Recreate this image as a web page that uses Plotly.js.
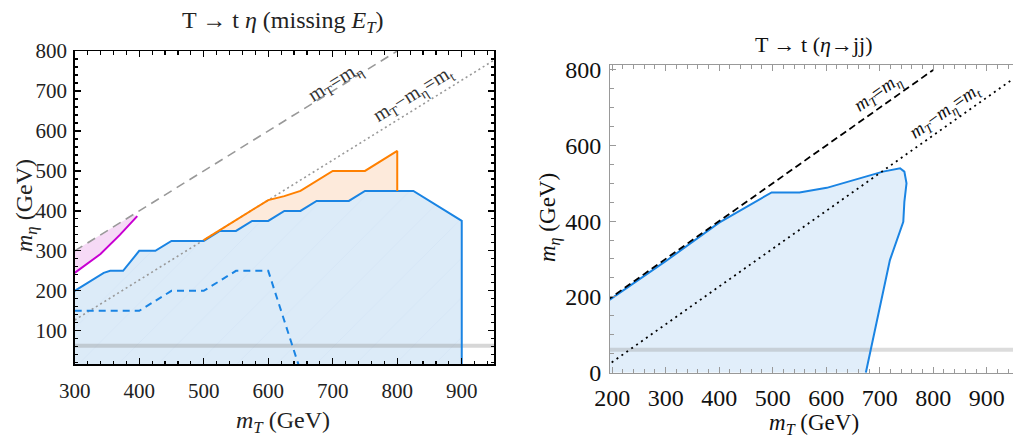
<!DOCTYPE html>
<html>
<head>
<meta charset="utf-8">
<script src="https://cdn.plot.ly/plotly-3.0.1.min.js"></script>
<style>html,body{margin:0;padding:0;overflow:hidden;background:#fff}</style>
</head>
<body>
<div id="chart" style="width:1013px;height:438px"></div>
<script>
// ---------- Left panel: T -> t eta (missing E_T) ----------
const leftBlueX = [300, 325, 345, 355, 375, 400, 425, 450, 500, 525, 550, 575, 600, 625, 650, 675, 725, 750, 825, 900, 900];
const leftBlueY = [200, 225, 245, 250, 250, 300, 300, 325, 325, 350, 350, 375, 375, 400, 400, 425, 425, 450, 450, 375, 0];
const leftDashX = [300, 400, 450, 500, 550, 600, 650];
const leftDashY = [150, 150, 200, 200, 250, 250, 0];
const orangeX = [500, 550, 600, 625, 650, 700, 750, 800, 800];
const orangeY = [327, 377, 427, 437, 450, 500, 500, 550, 450];
const magentaX = [300, 340, 370, 397];
const magentaY = [245, 292, 340, 387];
const topMass = 173;
const higgsHalf = 62.5;
const rightBand = 60;

// ---------- Right panel: T -> t (eta -> jj) ----------
const rightBlueX = [190, 300, 400, 498, 550, 601, 706, 738, 746, 750, 746, 744, 719, 674];
const rightBlueY = [187, 294, 396, 476, 476, 488, 531, 540, 531, 500, 451, 398, 297, -1];

const L = {x: [300, 950], y: [17, 800]};
const R = {x: [196, 949], y: [-1, 813]};

const blueLine = '#1a84e3';
const blueFill = '#dcebf8';

function blueAt(x) {
  for (let i = 0; i < leftBlueX.length - 1; i++) {
    const x0 = leftBlueX[i], x1 = leftBlueX[i + 1];
    if (x >= x0 && x <= x1 && x1 > x0) {
      return leftBlueY[i] + (leftBlueY[i + 1] - leftBlueY[i]) * (x - x0) / (x1 - x0);
    }
  }
  return null;
}
const backX = leftBlueX.filter(v => v >= 500 && v <= 800).reverse();
const orangeFillX = orangeX.concat([800], backX);
const orangeFillY = orangeY.concat([blueAt(800)], backX.map(blueAt));

const pinkFillX = magentaX.concat([390, 300]);
const pinkFillY = magentaY.concat([390, 300]);

const traces = [
  {x: leftBlueX.concat([300]), y: leftBlueY.concat([0]), xaxis: 'x', yaxis: 'y', mode: 'lines',
   fill: 'toself', fillcolor: blueFill, line: {width: 0}, hoverinfo: 'skip',
   fillpattern: {shape: '/', bgcolor: blueFill, fgcolor: '#d4e5f5', size: 28, solidity: 0.03}},
  {x: orangeFillX, y: orangeFillY, xaxis: 'x', yaxis: 'y', mode: 'lines',
   fill: 'toself', fillcolor: '#fdeadb', line: {width: 0}, hoverinfo: 'skip'},
  {x: pinkFillX, y: pinkFillY, xaxis: 'x', yaxis: 'y', mode: 'lines',
   fill: 'toself', fillcolor: '#f6daf6', line: {width: 0}, hoverinfo: 'skip'},
  {x: L.x, y: [higgsHalf, higgsHalf], xaxis: 'x', yaxis: 'y', mode: 'lines',
   line: {color: 'rgba(140,140,140,0.35)', width: 4}},
  {x: [300, 800], y: [300, 800], xaxis: 'x', yaxis: 'y', mode: 'lines',
   line: {color: '#999999', width: 1.6, dash: '9px,6px'}},
  {x: [300, 950], y: [300 - topMass, 950 - topMass], xaxis: 'x', yaxis: 'y', mode: 'lines',
   line: {color: '#999999', width: 1.6, dash: '2px,3px'}},
  {x: leftBlueX, y: leftBlueY, xaxis: 'x', yaxis: 'y', mode: 'lines',
   line: {color: blueLine, width: 2}},
  {x: leftDashX, y: leftDashY, xaxis: 'x', yaxis: 'y', mode: 'lines',
   line: {color: blueLine, width: 2, dash: '7px,5px'}},
  {x: orangeX, y: orangeY, xaxis: 'x', yaxis: 'y', mode: 'lines',
   line: {color: '#ff8000', width: 2}},
  {x: magentaX, y: magentaY, xaxis: 'x', yaxis: 'y', mode: 'lines',
   line: {color: '#c800d2', width: 2}},

  {x: rightBlueX.concat([190]), y: rightBlueY.concat([-1]), xaxis: 'x2', yaxis: 'y2', mode: 'lines',
   fill: 'toself', fillcolor: '#e1eefa', line: {width: 0}, hoverinfo: 'skip'},
  {x: R.x, y: [rightBand, rightBand], xaxis: 'x2', yaxis: 'y2', mode: 'lines',
   line: {color: 'rgba(140,140,140,0.3)', width: 4}},
  {x: rightBlueX, y: rightBlueY, xaxis: 'x2', yaxis: 'y2', mode: 'lines',
   line: {color: blueLine, width: 2}},
  {x: [190, 800], y: [190, 800], xaxis: 'x2', yaxis: 'y2', mode: 'lines',
   line: {color: '#000000', width: 1.8, dash: '7px,4px'}},
  {x: [190, 949], y: [190 - topMass, 949 - topMass], xaxis: 'x2', yaxis: 'y2', mode: 'lines',
   line: {color: '#000000', width: 1.8, dash: '2px,4px'}}
];

const serif = 'Liberation Serif';
const tickSerif = 'Times New Roman';

const layout = {
  width: 1013, height: 438,
  margin: {l: 0, r: 0, t: 0, b: 0},
  paper_bgcolor: '#ffffff', plot_bgcolor: 'rgba(0,0,0,0)',
  showlegend: false,
  font: {family: tickSerif, color: '#222', size: 18},
  xaxis: {domain: [74.7 / 1013, 494 / 1013], range: L.x, anchor: 'y',
    showgrid: false, zeroline: false, showline: true, linecolor: '#000', linewidth: 1.5,
    mirror: 'allticks', ticks: 'inside', ticklen: 6, tickwidth: 1.2, tickcolor: '#000',
    tick0: 300, dtick: 100, ticklabelstandoff: 7,
    minor: {ticks: 'inside', ticklen: 3.5, dtick: 20, tickcolor: '#000', tickwidth: 1.2},
    tickfont: {family: tickSerif, size: 21, color: '#222'}},
  yaxis: {domain: [(438 - 364) / 438, (438 - 51) / 438], range: L.y, anchor: 'x',
    showgrid: false, zeroline: false, showline: true, linecolor: '#000', linewidth: 1.5,
    mirror: 'allticks', ticks: 'inside', ticklen: 6, tickwidth: 1.2, tickcolor: '#000',
    tick0: 0, dtick: 100, ticklabelstandoff: 2,
    minor: {ticks: 'inside', ticklen: 3.5, dtick: 20, tickcolor: '#000', tickwidth: 1.2},
    tickfont: {family: tickSerif, size: 21, color: '#222'}},
  xaxis2: {domain: [610 / 1013, 1], range: R.x, anchor: 'y2',
    showgrid: false, zeroline: false, showline: true, linecolor: '#999', linewidth: 1,
    mirror: 'allticks', ticks: 'inside', ticklen: 6, tickwidth: 1, tickcolor: '#999',
    tick0: 200, dtick: 100, ticklabelstandoff: 3,
    minor: {ticks: 'inside', ticklen: 3.5, dtick: 20, tickcolor: '#999', tickwidth: 1},
    tickfont: {family: tickSerif, size: 24, color: '#111'}},
  yaxis2: {domain: [(438 - 372.7) / 438, (438 - 65) / 438], range: R.y, anchor: 'x2',
    showgrid: false, zeroline: false, showline: true, linecolor: '#999', linewidth: 1,
    mirror: false, ticks: 'inside', ticklen: 6, tickwidth: 1, tickcolor: '#999',
    tick0: 0, dtick: 200, ticklabelstandoff: 3,
    minor: {ticks: 'inside', ticklen: 3.5, dtick: 50, tickcolor: '#999', tickwidth: 1},
    tickfont: {family: tickSerif, size: 24, color: '#111'}},
  annotations: [
    {text: 'T → t <i>η</i> (missing <i>E<sub>T</sub></i>)', xref: 'paper', yref: 'paper',
     x: 283 / 1013, y: (438 - 22) / 438, showarrow: false, xanchor: 'center', yanchor: 'middle',
     font: {family: serif, size: 24, color: '#222'}},
    {text: 'T → t (<i>η</i>→jj)', xref: 'paper', yref: 'paper',
     x: 813 / 1013, y: (438 - 45) / 438, showarrow: false, xanchor: 'center', yanchor: 'middle',
     font: {family: serif, size: 22, color: '#111'}},
    {text: '<i>m<sub>T</sub></i> (GeV)', xref: 'paper', yref: 'paper',
     x: 283 / 1013, y: (438 - 422) / 438, showarrow: false, xanchor: 'center', yanchor: 'middle',
     font: {family: serif, size: 24, color: '#222'}},
    {text: '<i>m<sub>η</sub></i> (GeV)', xref: 'paper', yref: 'paper', textangle: -90,
     x: 26 / 1013, y: (438 - 206) / 438, showarrow: false, xanchor: 'center', yanchor: 'middle',
     font: {family: serif, size: 24, color: '#222'}},
    {text: '<i>m<sub>T</sub></i> (GeV)', xref: 'paper', yref: 'paper',
     x: 814 / 1013, y: (438 - 424) / 438, showarrow: false, xanchor: 'center', yanchor: 'middle',
     font: {family: serif, size: 23, color: '#111'}},
    {text: '<i>m<sub>η</sub></i> (GeV)', xref: 'paper', yref: 'paper', textangle: -90,
     x: 549 / 1013, y: (438 - 218) / 438, showarrow: false, xanchor: 'center', yanchor: 'middle',
     font: {family: serif, size: 23, color: '#111'}},
    {text: 'm<sub>T</sub>=m<sub>η</sub>', xref: 'x', yref: 'y', x: 703, y: 722, textangle: -31.7,
     showarrow: false, font: {family: serif, size: 20, color: '#333'}},
    {text: 'm<sub>T</sub>−m<sub>η</sub>=m<sub>t</sub>', xref: 'x', yref: 'y', x: 825, y: 690, textangle: -31.7,
     showarrow: false, font: {family: serif, size: 20, color: '#333'}},
    {text: '<i>m<sub>T</sub></i>=<i>m<sub>η</sub></i>', xref: 'x2', yref: 'y2', x: 697, y: 738, textangle: -35.3,
     showarrow: false, font: {family: serif, size: 19, color: '#111'}},
    {text: '<i>m<sub>T</sub></i>−<i>m<sub>η</sub></i>=<i>m<sub>t</sub></i>', xref: 'x2', yref: 'y2', x: 822, y: 688, textangle: -35.3,
     showarrow: false, font: {family: serif, size: 19, color: '#111'}}
  ]
};

Plotly.newPlot('chart', traces, layout, {staticPlot: true, displayModeBar: false});
</script>
</body>
</html>
